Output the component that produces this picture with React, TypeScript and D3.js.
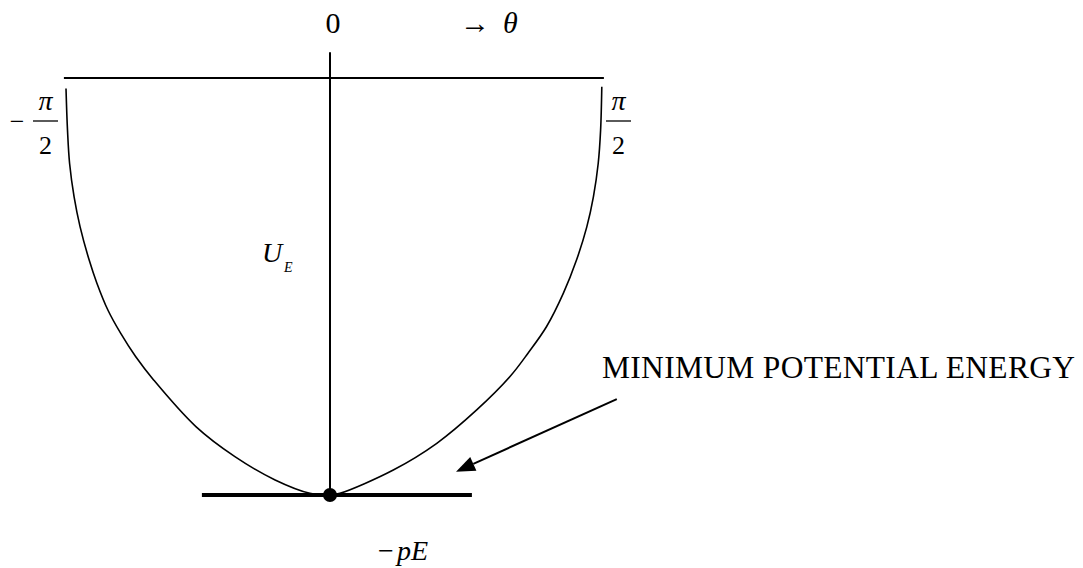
import React from 'react';
import * as d3 from 'd3';

// theta in degrees, U in units of pE (0 = top line, -1 = minimum)
const leftBranch: [number, number][] = [
    [-88, -0.025], [-87.5, -0.125], [-86.8, -0.205], [-85.3, -0.285], [-83.3, -0.357],
    [-80.3, -0.436], [-77.7, -0.492], [-74, -0.557], [-69.8, -0.612], [-64.8, -0.668],
    [-58.8, -0.724], [-44.7, -0.836], [-31.7, -0.908], [-18.3, -0.964], [-6.7, -0.996], [0, -1],
];
const rightBranch: [number, number][] = [
    [0, -1], [3.3, -0.996], [21.1, -0.94], [35.6, -0.876], [48.9, -0.796],
    [60, -0.716], [66, -0.66], [72.2, -0.596], [77.8, -0.516], [82.2, -0.436],
    [85.6, -0.357], [87.8, -0.285], [89.4, -0.205], [90.2, -0.125], [90.6, -0.021],
];
const topLineExtent = [-88.7, 91.3];
const bottomLineExtent = [-42.7, 47.3];
const axisTopU = 0.062;
const arrowFrom: [number, number] = [95.6, -0.77];
const arrowTo: [number, number] = [42, -0.944];
const annotation = 'MINIMUM POTENTIAL ENERGY';

const FONT = 'Liberation Serif';

const x = d3.scaleLinear().domain([-90, 90]).range([60, 600]);
const y = d3.scaleLinear().domain([-1, 0]).range([495, 78]);

const line = d3.line<[number, number]>()
    .x(d => x(d[0]))
    .y(d => y(d[1]))
    .curve(d3.curveCatmullRom.alpha(0.5));

type TProps = { x: number; y: number; size: number; italic?: boolean; anchor?: string; children: React.ReactNode; textLength?: number };

function T({ x: tx, y: ty, size, italic, anchor = 'start', children, textLength }: TProps) {
    return (
        <text
            x={tx}
            y={ty}
            fontSize={size}
            fontFamily={FONT}
            fontStyle={italic ? 'italic' : 'normal'}
            textAnchor={anchor}
            textLength={textLength}
        >
            {children}
        </text>
    );
}

function Arrow() {
    const x0 = x(arrowFrom[0]), y0 = y(arrowFrom[1]);
    const x1 = x(arrowTo[0]), y1 = y(arrowTo[1]);
    const ang = Math.atan2(y1 - y0, x1 - x0);
    const headLen = 19, headW = 7.5;
    const bx = x1 - headLen * Math.cos(ang), by = y1 - headLen * Math.sin(ang);
    const s = Math.sin(ang), c = Math.cos(ang);
    return (
        <g>
            <line x1={x0} y1={y0} x2={bx} y2={by} stroke="#000" strokeWidth={2} />
            <path d={`M${x1},${y1}L${bx + headW * s},${by - headW * c}L${bx - headW * s},${by + headW * c}Z`} fill="#000" />
        </g>
    );
}

function Frac({ cx }: { cx: number }) {
    return (
        <g>
            <T x={cx} y={110} size={28} italic anchor="middle">π</T>
            <line x1={cx - 12.5} x2={cx + 12.5} y1={121} y2={121} stroke="#000" strokeWidth={1.3} />
            <T x={cx} y={154} size={26} anchor="middle">2</T>
        </g>
    );
}

export default function App() {
    return (
        <svg width={1083} height={568} fontFamily={FONT} style={{ position: 'absolute', left: 0, top: 0 }}>
            {/* top line (U = 0) */}
            <line x1={x(topLineExtent[0])} x2={x(topLineExtent[1])} y1={y(0)} y2={y(0)} stroke="#000" strokeWidth={2} />
            {/* vertical axis */}
            <line x1={x(0)} x2={x(0)} y1={y(axisTopU)} y2={y(-1)} stroke="#000" strokeWidth={2} />
            {/* minimum line */}
            <line x1={x(bottomLineExtent[0])} x2={x(bottomLineExtent[1])} y1={y(-1)} y2={y(-1)} stroke="#000" strokeWidth={4} />

            {[leftBranch, rightBranch].map((b, i) => (
                <path key={i} d={line(b) ?? ''} fill="none" stroke="#000" strokeWidth={1.6} />
            ))}

            <circle cx={x(0)} cy={y(-1)} r={7} fill="#000" />
            <Arrow />

            <T x={x(0) + 3} y={33} size={30} anchor="middle">0</T>
            <T x={475} y={33} size={30} anchor="middle">→</T>
            <T x={503} y={33} size={30} italic>θ</T>

            <T x={17} y={130} size={26} anchor="middle">−</T>
            <Frac cx={x(-90) - 14.5} />
            <Frac cx={x(90) + 18.5} />

            <T x={262} y={262} size={28} italic>U</T>
            <T x={284} y={272} size={14} italic>E</T>

            <T x={386} y={560} size={28} anchor="middle">−</T>
            <T x={397} y={560} size={28} italic>pE</T>

            <T x={602} y={378} size={31.5} textLength={473}>{annotation}</T>
        </svg>
    );
}
